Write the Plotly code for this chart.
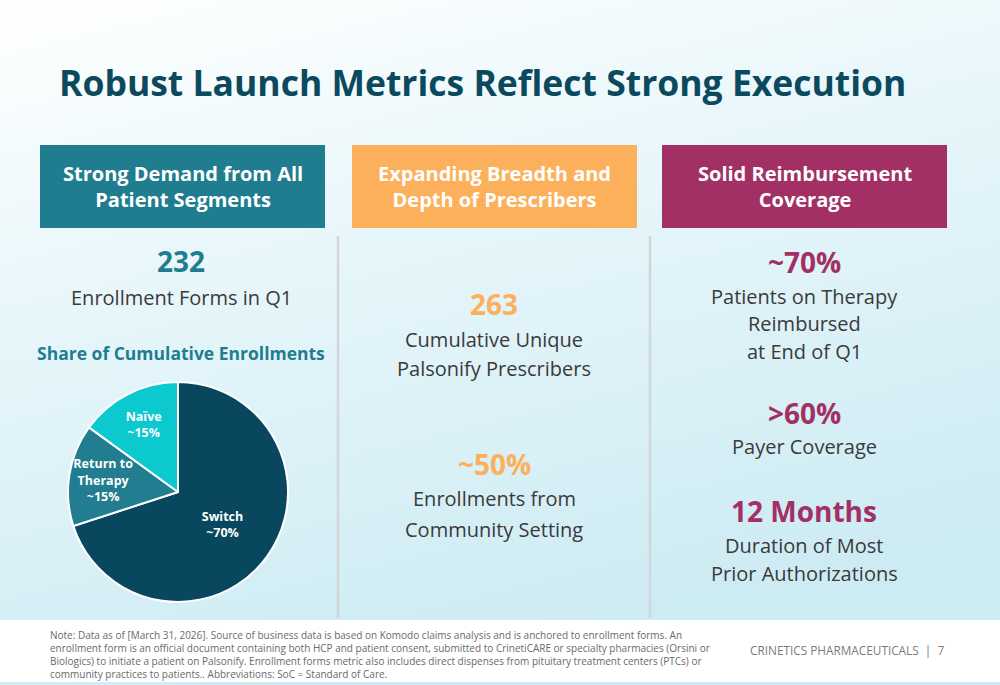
import base64
import plotly.graph_objects as go

# ---- data ----
segments = ["Switch", "Return to<br>Therapy", "Naïve"]
segment_share = [70, 15, 15]
segment_labels = ["~70%", "~15%", "~15%"]
segment_colors = ["#08475e", "#217d8f", "#0cc8cf"]

title_text = "Robust Launch Metrics Reflect Strong Execution"
headers = ["Strong Demand from All<br>Patient Segments",
           "Expanding Breadth and<br>Depth of Prescribers",
           "Solid Reimbursement<br>Coverage"]
header_colors = ["#1f7d8f", "#fdb05b", "#a23064"]

W, H = 1000, 685
FONT = "Open Sans"
BODY = "#3a3a3a"

def px(x):
    return x / W

def py(y):
    return 1 - y / H

fig = go.Figure()

# Pie
cx, cy, r = 178, 492, 110
fig.add_trace(go.Pie(
    labels=segments, values=segment_share, text=segment_labels,
    sort=False, direction="clockwise", rotation=0,
    marker=dict(colors=segment_colors, line=dict(color="white", width=2)),
    texttemplate="<b>%{label}<br>%{text}</b>", textposition="inside",
    insidetextorientation="horizontal",
    textfont=dict(family=FONT, size=12.5, color="white"),
    showlegend=False, hoverinfo="label+text",
    domain=dict(x=[px(cx - r), px(cx + r)], y=[py(cy + r), py(cy - r)]),
))

# Background gradient via inline SVG
svg = f'''<svg xmlns="http://www.w3.org/2000/svg" width="{W}" height="{H}" viewBox="0 0 {W} {H}" preserveAspectRatio="none">
<defs><linearGradient id="g" x1="0" y1="0" x2="0.35" y2="1">
<stop offset="0" stop-color="#ffffff"/><stop offset="0.45" stop-color="#e6f6fa"/><stop offset="1" stop-color="#cdebf3"/>
</linearGradient></defs>
<rect width="{W}" height="{H}" fill="url(#g)"/>
<rect x="0" y="620" width="{W}" height="62" fill="#ffffff"/>
</svg>'''
src = "data:image/svg+xml;base64," + base64.b64encode(svg.encode()).decode()

shapes = []
anns = []

# header boxes
box_x = [(40, 325), (352, 637), (662, 947)]
for (x0, x1), col, txt in zip(box_x, header_colors, headers):
    shapes.append(dict(type="rect", xref="paper", yref="paper",
                       x0=px(x0), x1=px(x1), y0=py(228), y1=py(145),
                       fillcolor=col, line=dict(width=0), layer="below"))
    anns.append(dict(x=px((x0 + x1) / 2), y=py(187), xref="paper", yref="paper",
                     text=f"<b>{txt}</b>", showarrow=False,
                     font=dict(family=FONT, size=20, color="white"),
                     xanchor="center", yanchor="middle"))

# dividers
for x in (338, 650):
    shapes.append(dict(type="line", xref="paper", yref="paper",
                       x0=px(x), x1=px(x), y0=py(618), y1=py(236),
                       line=dict(color="#d2d6d9", width=2.5)))

def add_text(x, y, text, size, color, bold=False):
    t = f"<b>{text}</b>" if bold else text
    anns.append(dict(x=px(x), y=py(y), xref="paper", yref="paper", text=t,
                     showarrow=False, xanchor="center", yanchor="middle",
                     font=dict(family=FONT, size=size, color=color)))

# title
anns.append(dict(x=px(57), y=py(82), xref="paper", yref="paper",
                 text=f"<b>{title_text}</b>", showarrow=False,
                 xanchor="left", yanchor="middle",
                 font=dict(family=FONT, size=35.5, color="#0b4a5e")))

teal, orange, mag = header_colors
# column 1
add_text(181, 261, "232", 28, teal, True)
add_text(181, 297, "Enrollment Forms in Q1", 20, BODY)
add_text(181, 353, "Share of Cumulative Enrollments", 17.5, teal, True)
# column 2
add_text(494, 304, "263", 28, orange, True)
add_text(494, 339, "Cumulative Unique", 20, BODY)
add_text(494, 368, "Palsonify Prescribers", 20, BODY)
add_text(494, 464, "~50%", 28, orange, True)
add_text(494, 499, "Enrollments from", 20, BODY)
add_text(494, 529, "Community Setting", 20, BODY)
# column 3
add_text(804, 262, "~70%", 28, mag, True)
add_text(804, 296, "Patients on Therapy", 20, BODY)
add_text(804, 323, "Reimbursed", 20, BODY)
add_text(804, 351, "at End of Q1", 20, BODY)
add_text(804, 413, ">60%", 28, mag, True)
add_text(804, 447, "Payer Coverage", 20, BODY)
add_text(804, 511, "12 Months", 28, mag, True)
add_text(804, 545, "Duration of Most", 20, BODY)
add_text(804, 573, "Prior Authorizations", 20, BODY)

# footer
note = ("Note: Data as of [March 31, 2026]. Source of business data is based on Komodo claims analysis and is anchored to enrollment forms. An<br>"
        "enrollment form is an official document containing both HCP and patient consent, submitted to CrinetiCARE or specialty pharmacies (Orsini or<br>"
        "Biologics) to initiate a patient on Palsonify. Enrollment forms metric also includes direct dispenses from pituitary treatment centers (PTCs) or<br>"
        "community practices to patients.. Abbreviations: SoC = Standard of Care.")
anns.append(dict(x=px(48), y=py(626), xref="paper", yref="paper", text=note,
                 showarrow=False, xanchor="left", yanchor="top", align="left",
                 font=dict(family=FONT, size=10, color="#6a6a6a")))
anns.append(dict(x=px(748), y=py(650), xref="paper", yref="paper",
                 text="CRINETICS PHARMACEUTICALS  |  7", showarrow=False,
                 xanchor="left", yanchor="middle",
                 font=dict(family=FONT, size=11.8, color="#7a7a7a")))

fig.update_layout(
    width=W, height=H, margin=dict(l=0, r=0, t=0, b=0),
    paper_bgcolor="white", plot_bgcolor="white",
    xaxis=dict(visible=False), yaxis=dict(visible=False),
    uniformtext=dict(minsize=12.5, mode="show"),
    images=[dict(source=src, xref="paper", yref="paper", x=0, y=1,
                 sizex=1, sizey=1, sizing="stretch", layer="below",
                 xanchor="left", yanchor="top")],
    shapes=shapes, annotations=anns,
)

fig.write_html("out.html", config={"displayModeBar": False},
               post_script="document.body.style.margin='0';document.body.style.overflow='hidden';")
